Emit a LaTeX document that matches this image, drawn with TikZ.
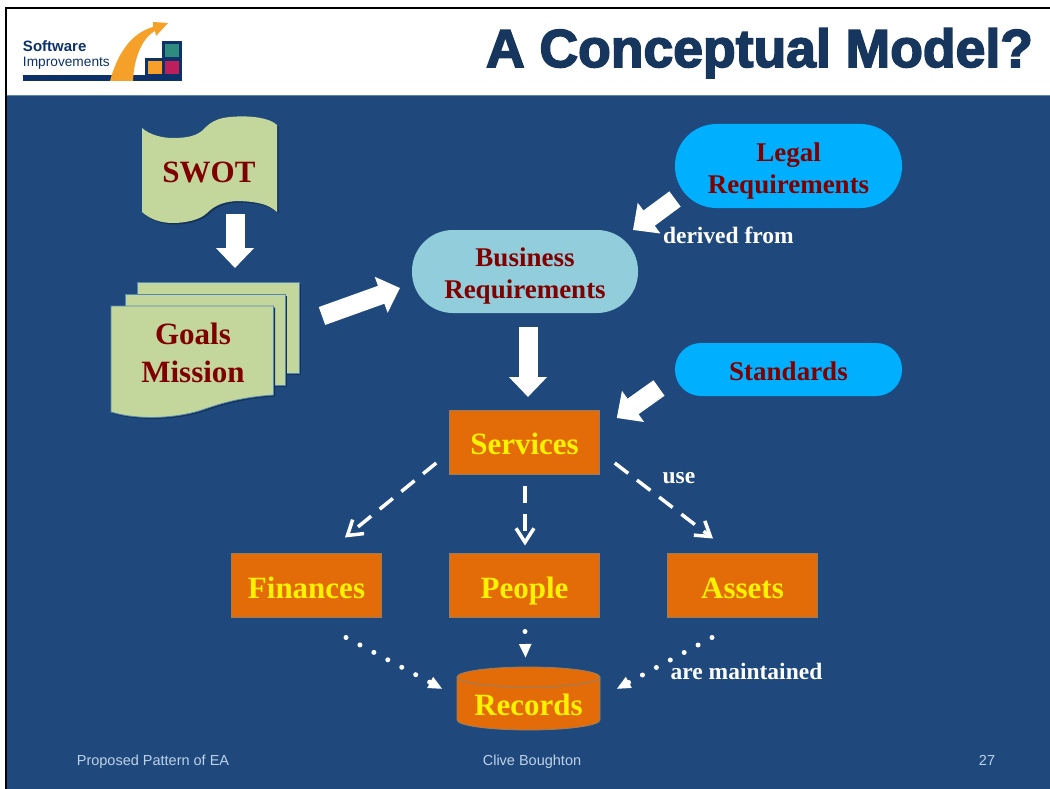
\documentclass[tikz,border=0pt]{standalone}
\usepackage{fontspec}
\setmainfont{Liberation Serif}
\newfontfamily\arialf{Liberation Sans}
\newfontfamily\ttlfont[BoldFeatures={FakeBold=3}]{Liberation Sans}
\usetikzlibrary{arrows.meta}
\definecolor{bgblue}{RGB}{31,73,125}
\definecolor{ttlblue}{RGB}{23,54,93}
\definecolor{pagegreen}{RGB}{195,214,155}
\definecolor{shadowblue}{RGB}{20,50,90}
\definecolor{edgeblue}{RGB}{85,135,180}
\definecolor{boxorange}{RGB}{227,108,9}
\definecolor{boxedge}{RGB}{150,125,100}
\definecolor{darkred}{RGB}{128,0,0}
\definecolor{skyfill}{RGB}{0,176,255}
\definecolor{paleblue}{RGB}{146,205,220}
\definecolor{footgrey}{RGB}{190,210,230}
\definecolor{navy}{RGB}{12,50,105}
\definecolor{logoorange}{RGB}{245,160,40}
\definecolor{logoteal}{RGB}{45,140,125}
\definecolor{logopink}{RGB}{190,30,90}
\tikzset{
  x=1pt,y=-1pt,
  lbl/.style={inner sep=0pt,outer sep=0pt},
  redtxt/.style={lbl,align=center,text=darkred,font=\fontsize{31}{38}\selectfont\bfseries},
  redsmall/.style={lbl,align=center,text=darkred,font=\fontsize{27}{32}\selectfont\bfseries},
  pill/.style={redsmall,fill=#1},
  orangebox/.style={lbl,fill=boxorange,draw=boxedge,line width=.8pt,text=yellow,font=\fontsize{31}{38}\selectfont\bfseries,minimum width=150.5pt,minimum height=64pt},
  note/.style={lbl,anchor=base,text=white,font=\fontsize{23.5}{28}\selectfont\bfseries},
  foot/.style={lbl,anchor=base,text=footgrey,font=\arialf\fontsize{14.5}{17}\selectfont},
  pagefill/.style={fill=pagegreen,draw=edgeblue,line width=.8pt},
  bigarrow/.style={draw=white,line width=19pt,-{Triangle[length=20pt,width=37pt]}},
  dasharrow/.style={draw=white,line width=3.5pt,dash pattern=on 17pt off 11pt,-{Straight Barb[length=14pt,width=18pt,line width=3.5pt]}},
  dotarrow/.style={draw=white,line width=5pt,line cap=round,dash pattern=on 0pt off 15.8pt,-{Triangle[length=14pt,width=11.5pt]}},
}
\begin{document}
\begin{tikzpicture}
\useasboundingbox (0,0) rectangle (1050,789);
% page, frame and header
\fill[white] (0,0) rectangle (1050,789);
\fill[black] (5,7) rectangle (1050,789);
\fill[white] (7.3,9) rectangle (1050,95);
\fill[bgblue] (7.3,95) rectangle (1050,789);
\draw[edgeblue,line width=.8pt] (7.3,95.4) -- (1050,95.4);
% logo
\fill[navy] (23,75) rectangle (182,81);
\fill[navy] (145,58) rectangle (182,75);
\fill[navy] (162,41) rectangle (182,60);
\fill[logoorange] (148,61) rectangle (162,74);
\fill[logopink] (165,61) rectangle (179,74);
\fill[logoteal] (165,44) rectangle (179,57);
\fill[logoorange] (110,81) .. controls (118,52) and (132,33) .. (153,27) -- (153,22) -- (168,23) -- (156,36) -- (155,31) .. controls (142,38) and (134,58) .. (133,81) -- cycle;
\node[lbl,anchor=base west,text=navy,font=\arialf\fontsize{15}{18}\selectfont\bfseries] (logoa) at (23,52) {Software};
\node[lbl,anchor=base west,text=navy,font=\arialf\fontsize{13.7}{16}\selectfont] (logob) at (23,67) {Improvements};
% title
\node[lbl,anchor=base,text=ttlblue,font=\ttlfont\fontsize{53.5}{60}\selectfont\bfseries] (title) at (759.5,67) {A Conceptual Model?};
% SWOT wave
\def\swotpath{(142,128) .. controls (150,135) and (162,138) .. (173,138) .. controls (190,138) and (197,135) .. (203,130) .. controls (210,122) and (218,118) .. (230,117) .. controls (250,115) and (270,118) .. (277,125) -- (277,212) .. controls (268,204) and (258,202) .. (240,201) .. controls (225,201) and (215,205) .. (207,213) .. controls (200,220) and (185,223) .. (173,223) .. controls (160,223) and (150,219) .. (142,212) -- cycle}
\fill[shadowblue,shift={(1.5,1.5)}] \swotpath;
\fill[pagegreen] \swotpath;
\node[redtxt,minimum width=136pt,minimum height=96pt] (swot) at (209,172) {SWOT};
% stacked pages
\fill[shadowblue] (138.5,283.5) rectangle (300.5,374.5);
\filldraw[pagefill] (137,282) rectangle (299,373);
\fill[shadowblue] (126.5,295.5) rectangle (286.5,386.5);
\filldraw[pagefill] (125,294) rectangle (285,385);
\def\goalpath{(111,306) -- (273.5,306) -- (273.5,395) .. controls (245,397) and (225,402) .. (205,409) .. controls (180,418) and (140,421) .. (111,412) -- cycle}
\fill[shadowblue,shift={(1.5,1.5)}] \goalpath;
\filldraw[pagefill] \goalpath;
\node[redtxt,minimum width=163pt,minimum height=112pt] (goals) at (193,353) {Goals\\Mission};
% pills
\node[pill=paleblue,minimum width=226pt,minimum height=83pt,rounded corners=41pt] (business) at (525,271.5) {\rule{0pt}{28.5pt}Business\\Requirements};
\node[pill=skyfill,minimum width=227pt,minimum height=84pt,rounded corners=41.5pt] (legal) at (788.5,166) {\rule{0pt}{29.5pt}Legal\\Requirements};
\node[pill=skyfill,minimum width=227pt,minimum height=53pt,rounded corners=26pt,text height=26pt,text depth=5pt] (standards) at (788.5,369.5) {Standards};
% orange boxes
\node[orangebox,text height=29.5pt,text depth=4.5pt] (services) at (524.5,442) {Services};
\node[orangebox,text height=28pt,text depth=2.6pt] (finances) at (306.5,585.5) {Finances};
\node[orangebox,text height=28pt,text depth=2.6pt] (people) at (524.5,585.5) {People};
\node[orangebox,text height=28pt,text depth=2.6pt] (assets) at (742.5,585.5) {Assets};
% records cylinder
\filldraw[fill=boxorange,draw=boxedge,line width=.8pt] (457,677) -- (457,720) arc[start angle=180,end angle=360,x radius=71.5pt,y radius=10pt] -- (600,677) arc[start angle=0,end angle=180,x radius=71.5pt,y radius=10pt] -- cycle;
\draw[boxedge,line width=1pt] (457,677) arc[start angle=180,end angle=360,x radius=71.5pt,y radius=10pt];
\node[orangebox,fill=none,draw=none,minimum width=143pt,minimum height=63pt,text height=27pt,text depth=5pt] (records) at (528.5,704) {Records};
% block arrows
\draw[bigarrow] ([shift={(26,-6)}]swot.south) -- ([shift={(42,-29)}]goals.north);
\draw[bigarrow] ([shift={(47.5,-37)}]goals.east) -- ([shift={(-12,16.5)}]business.west);
\draw[bigarrow] ([shift={(0,-9)}]legal.south west) -- ([shift={(-5,0)}]business.north east);
\draw[bigarrow] ([shift={(3,14)}]business.south) -- ([shift={(3.5,-13)}]services.north);
\draw[bigarrow] ([shift={(-16,18.5)}]standards.west) -- ([shift={(17,8)}]services.north east);
% dashed arrows
\draw[dasharrow] ([shift={(-13,-11)}]services.south west) -- ([shift={(38.5,-16)}]finances.north);
\draw[dasharrow] ([shift={(.5,12)}]services.south) -- ([shift={(.5,-8)}]people.north);
\draw[dasharrow] ([shift={(15,-11)}]services.south east) -- ([shift={(-29.5,-15)}]assets.north);
% dotted arrows
\draw[dotarrow] ([shift={(39.5,20)}]finances.south) -- ([shift={(-14.5,-15)}]records.west);
\draw[dotarrow] ([shift={(.5,14)}]people.south) -- ([shift={(-3,-14.5)}]records.north);
\draw[dotarrow] ([shift={(-30.5,20)}]assets.south) -- ([shift={(16.5,-15)}]records.east);
% notes
\node[note,anchor=base west] (derived) at (663,243) {derived from};
\node[note] (use) at (679,483.7) {use};
\node[note] (maint) at (746.5,679.3) {are maintained};
% footer
\node[foot] (foota) at (153,765) {Proposed Pattern of EA};
\node[foot] (footb) at (532,765) {Clive Boughton};
\node[foot] (footc) at (987,765) {27};
\end{tikzpicture}
\end{document}
